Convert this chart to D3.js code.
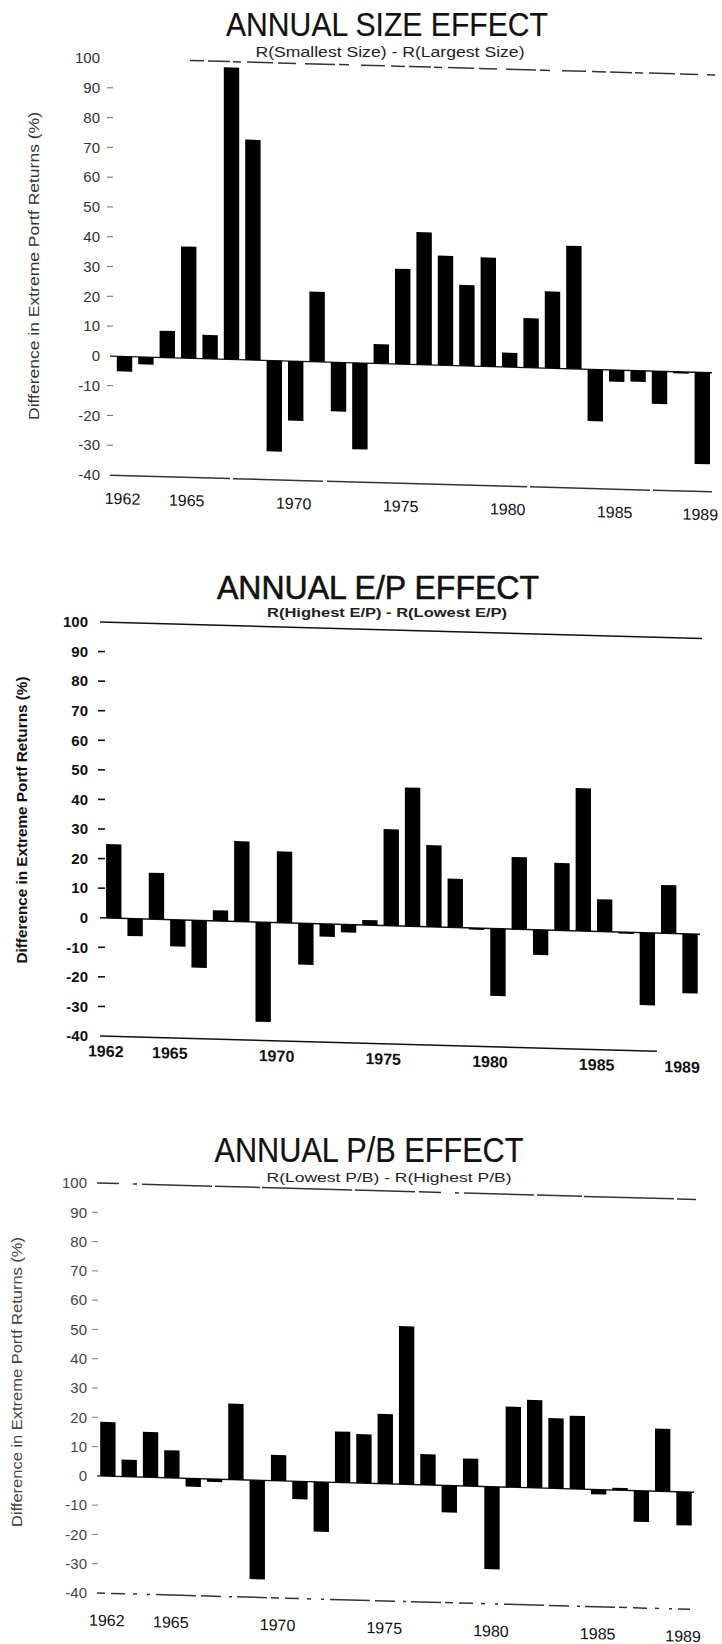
<!DOCTYPE html>
<html><head><meta charset="utf-8">
<script src="https://cdn.jsdelivr.net/npm/d3@7"></script>
<style>body{margin:0;background:#fff} svg{display:block}</style>
</head><body><svg id="c" width="722" height="1644"></svg>
<script>
// ---------- DATA ----------
const years = [1962,1963,1964,1965,1966,1967,1968,1969,1970,1971,1972,1973,1974,1975,
               1976,1977,1978,1979,1980,1981,1982,1983,1984,1985,1986,1987,1988,1989];
const sizeEffect = [-5, -2.5, 9, 37.5, 8, 98, 74, -30.5, -20, 23.5, -16.5, -29, 6.5, 32,
                    44.5, 36.8, 27.2, 36.6, 4.8, 16.6, 25.8, 41.3, -17.4, -3.9, -3.7, -11, -0.5, -30.8];
const epEffect   = [25, -5.9, 15.7, -9, -16, 3.6, 27.2, -33.7, 24.1, -14, -4.3, -2.7, 1.7, 32.6,
                    46.9, 27.6, 16.5, -0.4, -22.8, 24.4, -8.5, 22.8, 48.3, 10.9, -0.4, -24.5, 16.3, -20.1];
const pbEffect   = [18.5, 5.8, 15.5, 9.4, -2.8, -1, 25.9, -33.8, 8.8, -6.1, -17, 17.4, 16.7, 23.8,
                    54, 10.5, -9.2, 9.4, -28.2, 27.5, 30, 24, 25, -1.6, 0.8, -10.6, 21.4, -11.4];
const yTicks = [100, 90, 80, 70, 60, 50, 40, 30, 20, 10, 0, -10, -20, -30, -40];
const yearLabels = [1962, 1965, 1970, 1975, 1980, 1985, 1989];
const titles = ["ANNUAL SIZE EFFECT", "ANNUAL E/P EFFECT", "ANNUAL P/B EFFECT"];
const subtitles = ["R(Smallest Size) - R(Largest Size)", "R(Highest E/P) - R(Lowest E/P)", "R(Lowest P/B) - R(Highest P/B)"];
const yTitle = "Difference in Extreme Portf Returns (%)";

// ---------- LAYOUT ----------
const skew = Math.atan(0.0275) * 180 / Math.PI;
const panels = [
  {values: sizeEffect, ox: 100, y100: 58, yM40: 475, band: [113.8, 713],
   lineStart: 110, topStart: 190, topEnd: 715, zeroEnd: 712, botEnd: 712,
   topDash: "14,4,22,3,8,6,26,5,18,9,30,4,10,12,24,6", botDash: "120,3,90,4,200,3",
   lineColor: "#333", labelRight: 100, tick: [107, 113], tickColor: "#777", labelColor: "#333",
   bold: false, titleX: 387, titleY: 36, titleLen: 322, titleSize: 34,
   subX: 390, subY: 57, subLen: 269, subSize: 14,
   yTitleX: 34, yTitleY: 266, yTitleLen: 308, xLabelDy: 23, xLabelShift: -2},
  {values: epEffect, ox: 100, y100: 622, yM40: 1036, band: [103.1, 700.7],
   lineStart: 100, topStart: 100, topEnd: 702, zeroEnd: 700, botEnd: 657,
   topDash: null, botDash: null,
   lineColor: "#111", labelRight: 88, tick: [98, 105], tickColor: "#111", labelColor: "#111",
   bold: true, titleX: 378, titleY: 599, titleLen: 322, titleSize: 33,
   subX: 387, subY: 617, subLen: 240, subSize: 12.5,
   yTitleX: 22, yTitleY: 820, yTitleLen: 287, xLabelDy: 15, xLabelShift: -8},
  {values: pbEffect, ox: 97, y100: 1183, yM40: 1593, band: [97.2, 694.7],
   lineStart: 97, topStart: 97, topEnd: 696, zeroEnd: 694, botEnd: 690,
   topDash: "22,14,4,5,70,3,45,2,90,3,60,4", botDash: "8,6,14,8,4,10,3,6,40,5,20,8,3,5,30,4",
   lineColor: "#333", labelRight: 87, tick: [92, 98], tickColor: "#888", labelColor: "#444",
   bold: false, titleX: 369, titleY: 1162, titleLen: 309, titleSize: 35,
   subX: 389, subY: 1182, subLen: 245, subSize: 13.5,
   yTitleX: 17, yTitleY: 1382, yTitleLen: 290, xLabelDy: 27, xLabelShift: -1}
];

const svg = d3.select("#c");
const font = "'Liberation Sans', Arial, Helvetica, sans-serif";

panels.forEach((p, i) => {
  const ys = d3.scaleLinear().domain([-40, 100]).range([p.yM40, p.y100]);
  const xs = d3.scaleBand().domain(years).range(p.band).paddingInner(0.28).paddingOuter(0.14);
  const weight = p.bold ? "bold" : "normal";

  // Title & subtitle (unskewed)
  svg.append("text").attr("x", p.titleX).attr("y", p.titleY)
    .attr("text-anchor", "middle").attr("font-family", font).attr("font-size", p.titleSize)
    .attr("textLength", p.titleLen).attr("lengthAdjust", "spacingAndGlyphs")
    .attr("fill", "#111").attr("stroke", "#111").attr("stroke-width", p.bold ? 0.6 : 0.2)
    .text(titles[i]);
  svg.append("text").attr("x", p.subX).attr("y", p.subY)
    .attr("text-anchor", "middle").attr("font-family", font).attr("font-size", p.subSize)
    .attr("font-weight", weight)
    .attr("textLength", p.subLen).attr("lengthAdjust", "spacingAndGlyphs")
    .attr("fill", "#222").text(subtitles[i]);

  // Y title
  svg.append("text")
    .attr("transform", `translate(${p.yTitleX},${p.yTitleY}) rotate(-90)`)
    .attr("text-anchor", "middle").attr("dy", "0.35em")
    .attr("font-family", font).attr("font-size", 14).attr("font-weight", weight)
    .attr("textLength", p.yTitleLen).attr("lengthAdjust", "spacingAndGlyphs")
    .attr("fill", p.labelColor).text(yTitle);

  // Y tick labels & tick marks
  const tg = svg.append("g");
  tg.selectAll("text").data(yTicks).join("text")
    .attr("x", p.labelRight).attr("y", d => ys(d)).attr("dy", "0.35em")
    .attr("text-anchor", "end").attr("font-family", font).attr("font-size", 15)
    .attr("font-weight", weight).attr("fill", p.labelColor)
    .text(d => d);
  tg.selectAll("line").data(yTicks.filter(d => d !== 100 && d !== 0 && d !== -40)).join("line")
    .attr("x1", p.tick[0]).attr("x2", p.tick[1])
    .attr("y1", d => ys(d)).attr("y2", d => ys(d))
    .attr("stroke", p.tickColor).attr("stroke-width", p.bold ? 1.6 : 1.1);

  // Skewed plot area (mimics the scan's slant)
  const g = svg.append("g")
    .attr("transform", `translate(${p.ox},0) skewY(${skew}) translate(${-p.ox},0)`);

  const top = g.append("line").attr("x1", p.topStart).attr("x2", p.topEnd)
    .attr("y1", ys(100)).attr("y2", ys(100))
    .attr("stroke", p.lineColor).attr("stroke-width", 1.5);
  if (p.topDash) top.attr("stroke-dasharray", p.topDash);
  const bot = g.append("line").attr("x1", p.lineStart).attr("x2", p.botEnd)
    .attr("y1", ys(-40)).attr("y2", ys(-40))
    .attr("stroke", p.lineColor).attr("stroke-width", 1.5);
  if (p.botDash) bot.attr("stroke-dasharray", p.botDash);
  g.append("line").attr("x1", p.lineStart).attr("x2", p.zeroEnd)
    .attr("y1", ys(0)).attr("y2", ys(0))
    .attr("stroke", "#111").attr("stroke-width", 1.4);

  g.selectAll("rect").data(years.map((y, k) => ({year: y, v: p.values[k]}))).join("rect")
    .attr("x", d => xs(d.year)).attr("width", xs.bandwidth())
    .attr("y", d => Math.min(ys(d.v), ys(0)))
    .attr("height", d => Math.max(1.6, Math.abs(ys(d.v) - ys(0))))
    .attr("fill", "#000");

  g.selectAll("text.yr").data(yearLabels).join("text").attr("class", "yr")
    .attr("x", d => xs(d) + xs.bandwidth() / 2 + p.xLabelShift)
    .attr("y", ys(-40) + p.xLabelDy).attr("dy", "0.35em")
    .attr("text-anchor", "middle").attr("font-family", font).attr("font-size", 16)
    .attr("font-weight", weight).attr("fill", "#111")
    .text(d => d);
});
</script>
</body></html>
